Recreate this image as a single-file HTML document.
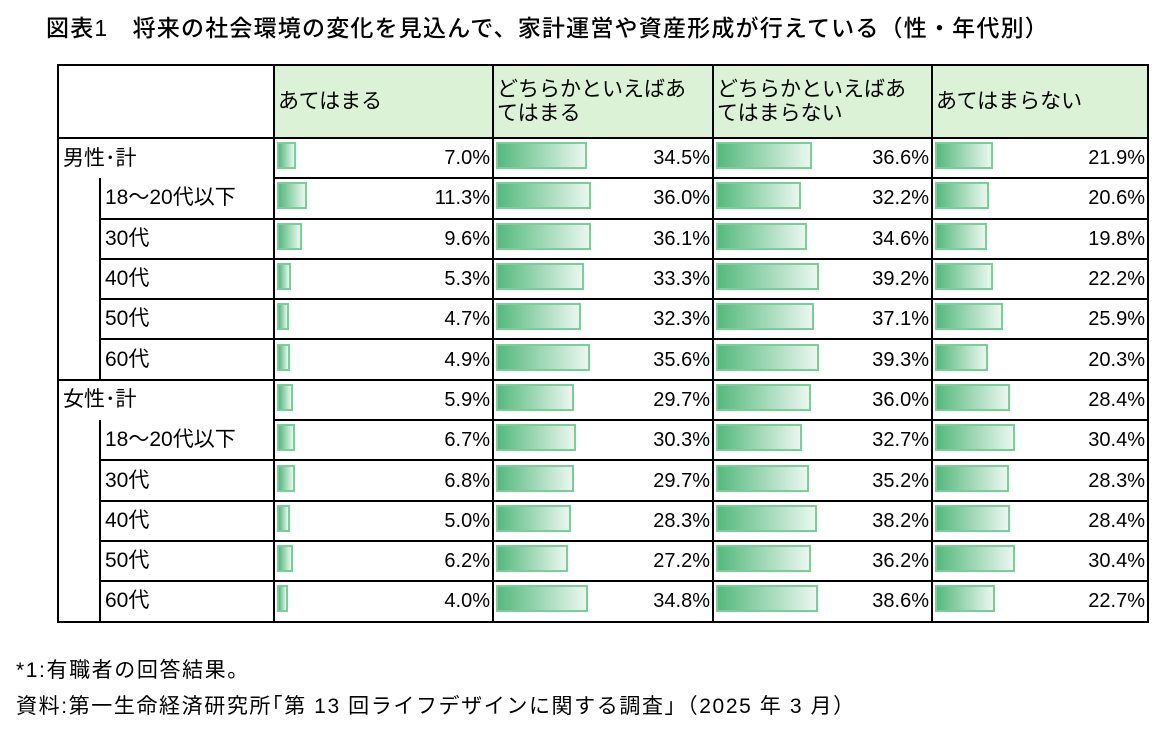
<!DOCTYPE html>
<html><head><meta charset="utf-8"><style>
body{margin:0;width:1169px;height:731px;background:#fff;font-family:"Liberation Sans","Noto Sans CJK JP",sans-serif;color:#000;position:relative;overflow:hidden}
.t{position:absolute;left:46px;top:9px;font-size:23px;letter-spacing:1.2px;white-space:nowrap;font-weight:500}
table{position:absolute;left:57px;top:64px;border-collapse:collapse;table-layout:fixed}
td{border:2px solid #000;padding:0;font-size:20px;height:38.3px;white-space:nowrap;line-height:20px}
tr.h td{height:71px;background:#dcf2d6;vertical-align:middle;padding-left:3px;padding-right:22px;font-size:21px;line-height:24px;white-space:normal;word-break:break-all}
tr.h td.e{background:#fff}
.c{position:relative;height:38px;overflow:hidden}
.l{position:absolute;left:4px;top:7px;font-size:21px;line-height:24px}
.b{position:absolute;left:2px;top:3px;height:27px;border:2px solid #79cf98;background:linear-gradient(to right,#55b97d,#eaf7ef);box-sizing:border-box}
.v{position:absolute;right:2px;top:8px;line-height:23px}
.f{position:absolute;left:16px;font-size:21px;white-space:nowrap;letter-spacing:1.6px}
</style></head><body>
<div class="t">図表1　将来の社会環境の変化を見込んで、家計運営や資産形成が行えている（性・年代別）</div>
<table>
<colgroup><col style="width:42px"><col style="width:174px"><col style="width:219px"><col style="width:220px"><col style="width:219px"><col style="width:216px"></colgroup>
<tr class="h"><td class="e" colspan="2"></td><td>あてはまる</td><td>どちらかといえばあてはまる</td><td>どちらかといえばあてはまらない</td><td>あてはまらない</td></tr>
<tr><td colspan="2" style="border-bottom:hidden"><div class="c"><span class="l">男性･計</span></div></td>
<td><div class="c"><div class="b" style="width:19px"></div><span class="v">7.0%</span></div></td>
<td><div class="c"><div class="b" style="width:91px"></div><span class="v">34.5%</span></div></td>
<td><div class="c"><div class="b" style="width:96px"></div><span class="v">36.6%</span></div></td>
<td><div class="c"><div class="b" style="width:58px"></div><span class="v">21.9%</span></div></td></tr>
<tr><td rowspan="5" style="border-top:hidden"></td><td><div class="c"><span class="l">18～20代以下</span></div></td>
<td><div class="c"><div class="b" style="width:30px"></div><span class="v">11.3%</span></div></td>
<td><div class="c"><div class="b" style="width:95px"></div><span class="v">36.0%</span></div></td>
<td><div class="c"><div class="b" style="width:85px"></div><span class="v">32.2%</span></div></td>
<td><div class="c"><div class="b" style="width:54px"></div><span class="v">20.6%</span></div></td></tr>
<tr><td><div class="c"><span class="l">30代</span></div></td>
<td><div class="c"><div class="b" style="width:25px"></div><span class="v">9.6%</span></div></td>
<td><div class="c"><div class="b" style="width:95px"></div><span class="v">36.1%</span></div></td>
<td><div class="c"><div class="b" style="width:91px"></div><span class="v">34.6%</span></div></td>
<td><div class="c"><div class="b" style="width:52px"></div><span class="v">19.8%</span></div></td></tr>
<tr><td><div class="c"><span class="l">40代</span></div></td>
<td><div class="c"><div class="b" style="width:14px"></div><span class="v">5.3%</span></div></td>
<td><div class="c"><div class="b" style="width:88px"></div><span class="v">33.3%</span></div></td>
<td><div class="c"><div class="b" style="width:103px"></div><span class="v">39.2%</span></div></td>
<td><div class="c"><div class="b" style="width:58px"></div><span class="v">22.2%</span></div></td></tr>
<tr><td><div class="c"><span class="l">50代</span></div></td>
<td><div class="c"><div class="b" style="width:12px"></div><span class="v">4.7%</span></div></td>
<td><div class="c"><div class="b" style="width:85px"></div><span class="v">32.3%</span></div></td>
<td><div class="c"><div class="b" style="width:98px"></div><span class="v">37.1%</span></div></td>
<td><div class="c"><div class="b" style="width:68px"></div><span class="v">25.9%</span></div></td></tr>
<tr><td><div class="c"><span class="l">60代</span></div></td>
<td><div class="c"><div class="b" style="width:13px"></div><span class="v">4.9%</span></div></td>
<td><div class="c"><div class="b" style="width:94px"></div><span class="v">35.6%</span></div></td>
<td><div class="c"><div class="b" style="width:103px"></div><span class="v">39.3%</span></div></td>
<td><div class="c"><div class="b" style="width:53px"></div><span class="v">20.3%</span></div></td></tr>
<tr><td colspan="2" style="border-bottom:hidden"><div class="c"><span class="l">女性･計</span></div></td>
<td><div class="c"><div class="b" style="width:16px"></div><span class="v">5.9%</span></div></td>
<td><div class="c"><div class="b" style="width:78px"></div><span class="v">29.7%</span></div></td>
<td><div class="c"><div class="b" style="width:95px"></div><span class="v">36.0%</span></div></td>
<td><div class="c"><div class="b" style="width:75px"></div><span class="v">28.4%</span></div></td></tr>
<tr><td rowspan="5" style="border-top:hidden"></td><td><div class="c"><span class="l">18～20代以下</span></div></td>
<td><div class="c"><div class="b" style="width:18px"></div><span class="v">6.7%</span></div></td>
<td><div class="c"><div class="b" style="width:80px"></div><span class="v">30.3%</span></div></td>
<td><div class="c"><div class="b" style="width:86px"></div><span class="v">32.7%</span></div></td>
<td><div class="c"><div class="b" style="width:80px"></div><span class="v">30.4%</span></div></td></tr>
<tr><td><div class="c"><span class="l">30代</span></div></td>
<td><div class="c"><div class="b" style="width:18px"></div><span class="v">6.8%</span></div></td>
<td><div class="c"><div class="b" style="width:78px"></div><span class="v">29.7%</span></div></td>
<td><div class="c"><div class="b" style="width:93px"></div><span class="v">35.2%</span></div></td>
<td><div class="c"><div class="b" style="width:74px"></div><span class="v">28.3%</span></div></td></tr>
<tr><td><div class="c"><span class="l">40代</span></div></td>
<td><div class="c"><div class="b" style="width:13px"></div><span class="v">5.0%</span></div></td>
<td><div class="c"><div class="b" style="width:75px"></div><span class="v">28.3%</span></div></td>
<td><div class="c"><div class="b" style="width:101px"></div><span class="v">38.2%</span></div></td>
<td><div class="c"><div class="b" style="width:75px"></div><span class="v">28.4%</span></div></td></tr>
<tr><td><div class="c"><span class="l">50代</span></div></td>
<td><div class="c"><div class="b" style="width:16px"></div><span class="v">6.2%</span></div></td>
<td><div class="c"><div class="b" style="width:72px"></div><span class="v">27.2%</span></div></td>
<td><div class="c"><div class="b" style="width:95px"></div><span class="v">36.2%</span></div></td>
<td><div class="c"><div class="b" style="width:80px"></div><span class="v">30.4%</span></div></td></tr>
<tr><td><div class="c"><span class="l">60代</span></div></td>
<td><div class="c"><div class="b" style="width:11px"></div><span class="v">4.0%</span></div></td>
<td><div class="c"><div class="b" style="width:92px"></div><span class="v">34.8%</span></div></td>
<td><div class="c"><div class="b" style="width:102px"></div><span class="v">38.6%</span></div></td>
<td><div class="c"><div class="b" style="width:60px"></div><span class="v">22.7%</span></div></td></tr>
</table>
<div class="f" style="top:654px">*1:有職者の回答結果。</div>
<div class="f" style="top:690px">資料:第一生命経済研究所｢第 13 回ライフデザインに関する調査｣（2025 年 3 月）</div>
</body></html>
